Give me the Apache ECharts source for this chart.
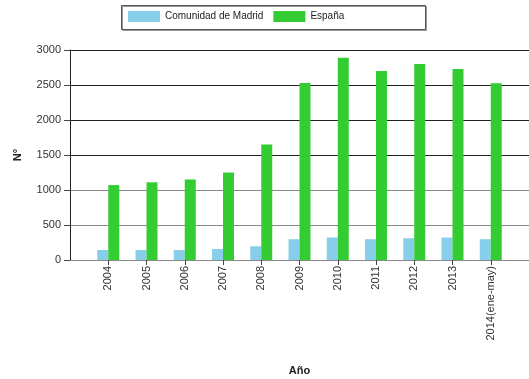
<!DOCTYPE html>
<html>
<head>
<meta charset="utf-8">
<script src="https://cdn.jsdelivr.net/npm/echarts@6/dist/echarts.min.js"></script>
<style>html,body{margin:0;padding:0;background:#fff;}#c{width:529px;height:379px;}</style>
</head>
<body>
<div id="c"></div>
<script>
var categories = ['', '2004', '2005', '2006', '2007', '2008', '2009', '2010', '2011', '2012', '2013', '2014(ene-may)', ''];
var madrid = [null, 143, 142, 142, 158, 196, 297, 321, 297, 311, 321, 297, null];
var espana = [null, 1070, 1110, 1150, 1250, 1650, 2530, 2890, 2700, 2800, 2730, 2525, null];
var yTicks = { min: 0, max: 3000, interval: 500 };

var chart = echarts.init(document.getElementById('c'), null, {renderer: 'canvas'});
var font = 'Liberation Sans, Arial, sans-serif';
chart.setOption({
  animation: false,
  backgroundColor: '#fff',
  graphic: [{
    type: 'rect', left: 121, top: 5, shape: {width: 304, height: 24},
    style: {fill: '#fff', stroke: '#555', lineWidth: 1, shadowColor: '#999', shadowOffsetX: 1, shadowOffsetY: 1, shadowBlur: 0}
  }],
  legend: {
    left: 128, top: 11, itemWidth: 32, itemHeight: 11, itemGap: 10, padding: 0,
    icon: 'rect',
    textStyle: {fontFamily: font, fontSize: 10, color: '#222', padding: [2, 0, 0, 0]},
    data: ['Comunidad de Madrid', 'España']
  },
  grid: {left: 70, right: 0, top: 50, bottom: 119, containLabel: false, outerBoundsMode: 'none'},
  xAxis: {
    type: 'category', boundaryGap: false, data: categories,
    name: 'Año', nameLocation: 'middle', nameGap: 105,
    nameTextStyle: {fontFamily: font, fontSize: 11, fontWeight: 'bold', color: '#222'},
    axisLine: {lineStyle: {color: '#888', width: 1}},
    axisTick: {show: true, length: 5, lineStyle: {color: '#444'}, interval: function (i, v) { return v !== ''; }},
    axisLabel: {rotate: 90, interval: 0, margin: 6, fontFamily: font, fontSize: 11, color: '#333'},
    splitLine: {show: false}
  },
  yAxis: {
    type: 'value', min: yTicks.min, max: yTicks.max, interval: yTicks.interval,
    name: 'N°', nameLocation: 'middle', nameGap: 47, nameRotate: 90,
    nameTextStyle: {fontFamily: font, fontSize: 11, fontWeight: 'bold', color: '#222'},
    axisLine: {show: true, lineStyle: {color: '#222', width: 1}},
    axisTick: {show: true, length: 6, lineStyle: {color: '#444'}},
    axisLabel: {margin: 9, fontFamily: font, fontSize: 11, color: '#333', formatter: function (v) { return String(v); }},
    splitLine: {show: true, lineStyle: {color: ['#888', '#888', '#888', '#222', '#222', '#222', '#222'], width: 1}}
  },
  series: [
    {name: 'Comunidad de Madrid', type: 'bar', data: madrid, barWidth: 11, barGap: '0%', itemStyle: {color: '#87CEEB'}},
    {name: 'España', type: 'bar', data: espana, barWidth: 11, barGap: '0%', itemStyle: {color: '#33CC33'}}
  ]
});
</script>
</body>
</html>
